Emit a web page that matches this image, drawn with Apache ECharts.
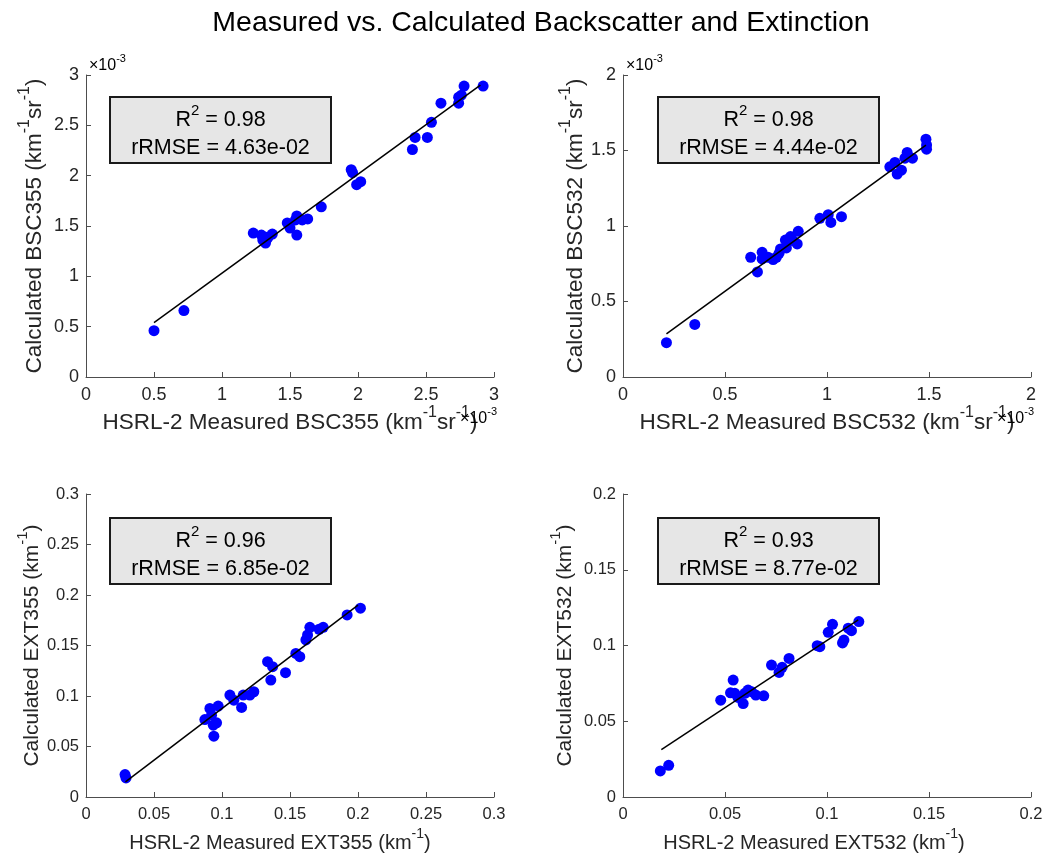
<!DOCTYPE html>
<html>
<head>
<meta charset="utf-8">
<script src="https://cdn.jsdelivr.net/npm/echarts@6/dist/echarts.min.js"></script>
<style>
  html, body { margin: 0; padding: 0; background: #fff; }
  #chart { width: 1047px; height: 862px; }
</style>
</head>
<body>
<div id="chart"></div>
<script>
// Backscatter at 355 nm, in units of 1e-3 km^-1 sr^-1
const bsc355Measured   = [0.50, 0.72, 1.23, 1.29, 1.30, 1.32, 1.34, 1.37, 1.33, 1.48, 1.50, 1.54, 1.55, 1.55, 1.59, 1.63, 1.73, 1.95, 1.96, 1.99, 2.02, 2.40, 2.42, 2.51, 2.54, 2.61, 2.74, 2.74, 2.76, 2.78, 2.92];
const bsc355Calculated = [0.46, 0.66, 1.43, 1.41, 1.36, 1.33, 1.39, 1.42, 1.37, 1.53, 1.48, 1.56, 1.60, 1.41, 1.56, 1.57, 1.69, 2.06, 2.03, 1.91, 1.94, 2.26, 2.38, 2.38, 2.53, 2.72, 2.72, 2.78, 2.80, 2.89, 2.89];
const bsc355FitX = [0.50, 2.90];
const bsc355FitY = [0.54, 2.90];

// Backscatter at 532 nm, in units of 1e-3 km^-1 sr^-1
const bsc532Measured   = [0.213, 0.352, 0.626, 0.659, 0.682, 0.682, 0.711, 0.736, 0.752, 0.765, 0.772, 0.796, 0.801, 0.821, 0.834, 0.854, 0.859, 0.965, 1.006, 1.019, 1.071, 1.308, 1.333, 1.344, 1.365, 1.382, 1.393, 1.419, 1.485, 1.488, 1.488];
const bsc532Calculated = [0.227, 0.348, 0.793, 0.696, 0.826, 0.782, 0.793, 0.778, 0.793, 0.819, 0.848, 0.907, 0.855, 0.930, 0.903, 0.881, 0.965, 1.051, 1.075, 1.024, 1.062, 1.392, 1.421, 1.344, 1.370, 1.449, 1.487, 1.449, 1.575, 1.537, 1.509];
const bsc532FitX = [0.213, 1.485];
const bsc532FitY = [0.286, 1.535];

// Extinction at 355 nm, km^-1
const ext355Measured   = [0.0287, 0.0294, 0.0874, 0.0911, 0.0923, 0.0936, 0.0940, 0.0960, 0.0972, 0.1058, 0.1087, 0.1144, 0.1156, 0.1205, 0.1234, 0.1335, 0.1372, 0.1359, 0.1467, 0.1543, 0.1572, 0.1617, 0.1629, 0.1646, 0.1714, 0.1744, 0.1920, 0.2018];
const ext355Calculated = [0.0222, 0.0189, 0.0767, 0.0877, 0.0810, 0.0711, 0.0602, 0.0734, 0.0900, 0.1009, 0.0959, 0.0887, 0.1009, 0.1009, 0.1042, 0.1340, 0.1290, 0.1158, 0.1231, 0.1422, 0.1389, 0.1555, 0.1604, 0.1680, 0.1661, 0.1680, 0.1803, 0.1869];
const ext355FitX = [0.0290, 0.2000];
const ext355FitY = [0.0149, 0.1900];

// Extinction at 532 nm, km^-1
const ext532Measured   = [0.0183, 0.0224, 0.0479, 0.0540, 0.0527, 0.0548, 0.0564, 0.0589, 0.0597, 0.0613, 0.0630, 0.0651, 0.0690, 0.0728, 0.0765, 0.0780, 0.0814, 0.0952, 0.0965, 0.1006, 0.1027, 0.1076, 0.1083, 0.1104, 0.1120, 0.1156];
const ext532Calculated = [0.0172, 0.0209, 0.0639, 0.0772, 0.0688, 0.0684, 0.0657, 0.0617, 0.0684, 0.0706, 0.0695, 0.0673, 0.0668, 0.0871, 0.0822, 0.0856, 0.0915, 0.0999, 0.0992, 0.1087, 0.1140, 0.1017, 0.1036, 0.1114, 0.1098, 0.1158];
const ext532FitX = [0.0188, 0.1153];
const ext532FitY = [0.0313, 0.1169];

// Fit statistics per panel
const r2Values    = ['0.98', '0.98', '0.96', '0.93'];
const rrmseValues = ['4.63e-02', '4.44e-02', '6.85e-02', '8.77e-02'];

const FONT = '"Liberation Sans", Arial, Helvetica, sans-serif';
const TEXT = '#262626';
const AXIS = '#4d4d4d';

// Rich-text styles: "n" is normal text, "s" is a raised superscript.
// The tall line height of "n" together with top alignment of "s" lifts the superscript.
function rich(size, color) {
  const c = color || TEXT;
  const sup = Math.round(size * 0.7);
  return {
    n: { fontSize: size, fontFamily: FONT, color: c, lineHeight: Math.round(size * 1.6) },
    s: { fontSize: sup, fontFamily: FONT, color: c, lineHeight: sup, verticalAlign: 'top' }
  };
}

const panels = [
  { grid: { left: 86, top: 75, width: 408, height: 302 }, xMax: 3, xInt: 0.5, yMax: 3, yInt: 0.5,
    xName: '{n|HSRL-2 Measured BSC355 (km}{s|-1}{n|sr}{s|-1}{n|)}',
    yName: '{n|Calculated BSC355 (km}{s|-1}{n|sr}{s|-1}{n|)}',
    tick: 18, xSize: 22.5, ySize: 22.5, xGap: 28, xShift: 0, yGap: 33,
    xs: bsc355Measured, ys: bsc355Calculated, fx: bsc355FitX, fy: bsc355FitY },
  { grid: { left: 623, top: 75, width: 408, height: 302 }, xMax: 2, xInt: 0.5, yMax: 2, yInt: 0.5,
    xName: '{n|HSRL-2 Measured BSC532 (km}{s|-1}{n|sr}{s|-1}{n|)}',
    yName: '{n|Calculated BSC532 (km}{s|-1}{n|sr}{s|-1}{n|)}',
    tick: 18, xSize: 22.5, ySize: 22.5, xGap: 28, xShift: 0, yGap: 28,
    xs: bsc532Measured, ys: bsc532Calculated, fx: bsc532FitX, fy: bsc532FitY },
  { grid: { left: 86, top: 494, width: 408, height: 303 }, xMax: 0.3, xInt: 0.05, yMax: 0.3, yInt: 0.05,
    xName: '{n|HSRL-2 Measured EXT355 (km}{s|-1}{n|)}',
    yName: '{n|Calculated EXT355 (km}{s|-1}{n|)}',
    tick: 16.5, xSize: 20, ySize: 21, xGap: 30, xShift: 10, yGap: 30,
    xs: ext355Measured, ys: ext355Calculated, fx: ext355FitX, fy: ext355FitY },
  { grid: { left: 623, top: 494, width: 408, height: 303 }, xMax: 0.2, xInt: 0.05, yMax: 0.2, yInt: 0.05,
    xName: '{n|HSRL-2 Measured EXT532 (km}{s|-1}{n|)}',
    yName: '{n|Calculated EXT532 (km}{s|-1}{n|)}',
    tick: 16.5, xSize: 20, ySize: 21, xGap: 30, xShift: 13, yGap: 41,
    xs: ext532Measured, ys: ext532Calculated, fx: ext532FitX, fy: ext532FitY }
];

function axisCommon(max, interval) {
  return {
    type: 'value', min: 0, max: max, interval: interval,
    axisLine: { show: true, onZero: false, lineStyle: { color: AXIS, width: 1 } },
    axisTick: { show: true, inside: true, length: 5, lineStyle: { color: AXIS, width: 1 } },
    splitLine: { show: false },
    nameLocation: 'middle'
  };
}

const grids = panels.map(p => p.grid);
const xAxes = panels.map((p, i) => Object.assign(axisCommon(p.xMax, p.xInt), {
  gridIndex: i, position: 'bottom', name: p.xName, nameGap: p.xGap,
  axisLabel: { color: TEXT, fontSize: p.tick, fontFamily: FONT, margin: 9 },
  nameTextStyle: { rich: rich(p.xSize), padding: [0, 2 * p.xShift, 0, 0] }
}));
const yAxes = panels.map((p, i) => Object.assign(axisCommon(p.yMax, p.yInt), {
  gridIndex: i, position: 'left', name: p.yName, nameGap: p.yGap, nameRotate: 90,
  axisLabel: { color: TEXT, fontSize: p.tick, fontFamily: FONT, margin: 7 },
  nameTextStyle: { rich: rich(p.ySize) }
}));

const series = [];
panels.forEach((p, i) => {
  series.push({
    type: 'scatter', xAxisIndex: i, yAxisIndex: i,
    data: p.xs.map((x, k) => [x, p.ys[k]]),
    symbol: 'circle', symbolSize: 11,
    itemStyle: { color: '#0000ff', opacity: 1 },
    z: 2, silent: true
  });
  series.push({
    type: 'line', xAxisIndex: i, yAxisIndex: i,
    data: p.fx.map((x, k) => [x, p.fy[k]]),
    showSymbol: false, symbol: 'none',
    lineStyle: { color: '#000', width: 1.5 },
    z: 3, silent: true
  });
});

// Annotation boxes with R^2 and rRMSE
const boxPos = [[110, 97], [658, 97], [110, 518], [658, 518]];
const graphics = boxPos.map((pos, i) => ({
  type: 'group', x: pos[0], y: pos[1],
  children: [
    { type: 'rect', shape: { x: 0, y: 0, width: 221, height: 66 },
      style: { fill: '#e6e6e6', stroke: '#1a1a1a', lineWidth: 2 } },
    { type: 'text', x: 110.5, y: 23,
      style: { text: '{n|R}{s|2}{n| = ' + r2Values[i] + '}', rich: rich(21.5),
               align: 'center', verticalAlign: 'middle' } },
    { type: 'text', x: 110.5, y: 51,
      style: { text: '{n|rRMSE = ' + rrmseValues[i] + '}', rich: rich(21.5),
               align: 'center', verticalAlign: 'middle' } }
  ]
}));

// Axis multipliers for the backscatter panels
const expText = '{n|\u00d710}{s|-3}';
[[89, 66, 'left'], [626, 66, 'left'], [497, 419, 'right'], [1034, 419, 'right']].forEach(e => {
  graphics.push({
    type: 'text', x: e[0], y: e[1], z: 10,
    style: { text: expText, rich: rich(16, '#5a5a5a'), align: e[2], verticalAlign: 'middle' }
  });
});

const chart = echarts.init(document.getElementById('chart'), null, { renderer: 'canvas' });
chart.setOption({
  backgroundColor: '#ffffff',
  animation: false,
  title: {
    text: 'Measured vs. Calculated Backscatter and Extinction',
    left: 536, top: 4, textAlign: 'center',
    textStyle: { fontSize: 28.5, fontWeight: 'normal', fontFamily: FONT, color: '#000' }
  },
  grid: grids,
  xAxis: xAxes,
  yAxis: yAxes,
  series: series,
  graphic: graphics
});
</script>
</body>
</html>
